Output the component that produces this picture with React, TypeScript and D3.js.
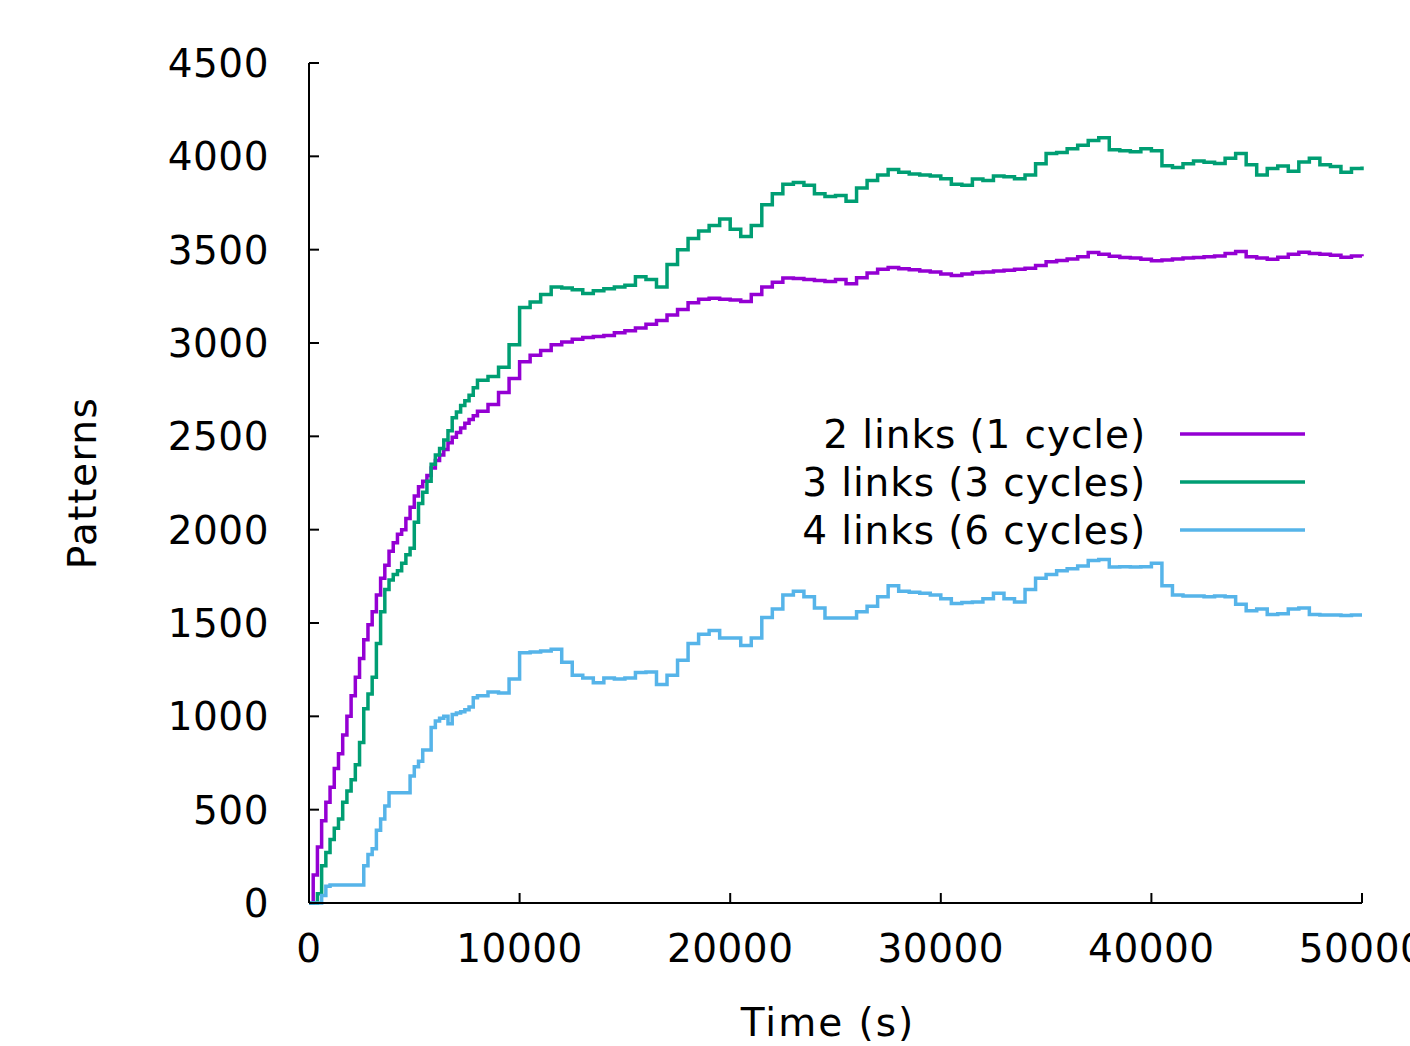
import React from "react";
import * as d3 from "d3";

// time grid (s): every 200 s up to 8000, then every 500 s
const times = [
  0, 200, 400, 600, 800, 1000, 1200, 1400, 1600, 1800, 2000, 2200, 2400, 2600, 2800, 3000, 3200, 3400, 3600, 3800,
  4000, 4200, 4400, 4600, 4800, 5000, 5200, 5400, 5600, 5800, 6000, 6200, 6400, 6600, 6800, 7000, 7200, 7400, 7600,
  7800, 8000,
  8500, 9000, 9500, 10000, 10500, 11000, 11500, 12000, 12500, 13000, 13500, 14000, 14500, 15000, 15500, 16000,
  16500, 17000, 17500, 18000, 18500, 19000, 19500, 20000, 20500, 21000, 21500, 22000, 22500, 23000, 23500, 24000,
  24500, 25000, 25500, 26000, 26500, 27000, 27500, 28000, 28500, 29000, 29500, 30000, 30500, 31000, 31500, 32000,
  32500, 33000, 33500, 34000, 34500, 35000, 35500, 36000, 36500, 37000, 37500, 38000, 38500, 39000, 39500, 40000,
  40500, 41000, 41500, 42000, 42500, 43000, 43500, 44000, 44500, 45000, 45500, 46000, 46500, 47000, 47500, 48000,
  48500, 49000, 49500, 50000,
];

const links2 = [
  0, 150, 300, 440, 540, 620, 720, 800, 900, 1000, 1110, 1210, 1310, 1410, 1490, 1560, 1650, 1740, 1810, 1885,
  1930, 1975, 2000, 2060, 2120, 2180, 2230, 2260, 2290, 2330, 2370, 2400, 2430, 2465, 2495, 2520, 2545, 2570, 2590,
  2610, 2635,
  2670, 2735, 2810, 2900, 2935, 2960, 2990, 3005, 3020, 3030, 3035, 3040, 3055, 3065, 3080, 3100,
  3120, 3150, 3180, 3215, 3235, 3240, 3235, 3230, 3222, 3260, 3300, 3325, 3348, 3345, 3340, 3335,
  3330, 3340, 3318, 3350, 3375, 3395, 3404, 3398, 3392, 3386, 3380, 3370, 3362, 3370, 3378, 3380,
  3386, 3390, 3395, 3400, 3415, 3435, 3442, 3450, 3462, 3485, 3475, 3465, 3458, 3455, 3448, 3440,
  3445, 3450, 3456, 3458, 3462, 3466, 3480, 3490, 3462, 3455, 3448, 3460, 3475, 3486, 3480, 3476,
  3470, 3460, 3466, 3465,
];

const links3 = [
  0, 0, 50, 200, 270, 340, 400, 450, 540, 600, 660, 740, 860, 1040, 1120, 1210, 1390, 1560, 1680, 1730,
  1760, 1780, 1820, 1865, 1900, 2040, 2140, 2200, 2260, 2350, 2400, 2435, 2480, 2530, 2600, 2630, 2665, 2690, 2720,
  2760, 2800,
  2820, 2870, 2990, 3190, 3220, 3260, 3300, 3295, 3285, 3265, 3280, 3290, 3300, 3310, 3355, 3340,
  3300, 3420, 3500, 3560, 3600, 3630, 3664, 3610, 3570, 3630, 3740, 3800, 3850, 3860, 3845, 3800,
  3785, 3790, 3760, 3830, 3870, 3900, 3930, 3915, 3905, 3900, 3895, 3880, 3850, 3845, 3878, 3870,
  3895, 3890, 3880, 3900, 3960, 4015, 4020, 4040, 4060, 4085, 4100, 4035, 4030, 4025, 4040, 4030,
  3950, 3940, 3960, 3975, 3968, 3962, 3990, 4015, 3955, 3900, 3935, 3948, 3920, 3970, 3990, 3955,
  3945, 3915, 3935, 3946,
];

const links4 = [
  0, 0, 0, 40, 90, 96, 96, 96, 96, 96, 96, 96, 96, 200, 260, 290, 390, 450, 520, 590,
  590, 590, 590, 590, 680, 730, 760, 820, 820, 940, 975, 990, 1000, 960, 1010, 1018, 1025, 1035, 1050,
  1100, 1110,
  1130, 1125, 1200, 1340, 1345, 1350, 1360, 1290, 1220, 1205, 1180, 1205, 1200, 1205, 1235, 1237,
  1170, 1220, 1300, 1390, 1440, 1460, 1420, 1420, 1380, 1420, 1530, 1575, 1650, 1670, 1640, 1580,
  1527, 1527, 1527, 1560, 1590, 1640, 1700, 1670, 1665, 1660, 1650, 1630, 1605, 1610, 1612, 1630,
  1660, 1630, 1612, 1680, 1740, 1760, 1780, 1790, 1805, 1835, 1840, 1800, 1802, 1800, 1802, 1820,
  1700, 1650, 1645, 1645, 1640, 1645, 1640, 1600, 1565, 1575, 1545, 1550, 1575, 1580, 1545, 1543,
  1543, 1540, 1543, 1543,
];

const seriesNames = ["2 links (1 cycle)", "3 links (3 cycles)", "4 links (6 cycles)"];
const seriesColors = ["#9400d3", "#009e73", "#56b4e9"];
const seriesValues = [links2, links3, links4];

const xTicks = [0, 10000, 20000, 30000, 40000, 50000];
const yTicks = [0, 500, 1000, 1500, 2000, 2500, 3000, 3500, 4000, 4500];

const W = 1410;
const H = 1046;
const font = "'DejaVu Sans', Verdana, sans-serif";

export default function App() {
  const x = d3.scaleLinear().domain([0, 50000]).range([309, 1362]);
  const y = d3.scaleLinear().domain([0, 4500]).range([903, 63]);

  const line = d3
    .line<[number, number]>()
    .x((d) => x(d[0]))
    .y((d) => y(d[1]))
    .curve(d3.curveStepAfter);

  return (
    <div style={{ position: "absolute", left: 0, top: 0 }}>
      <svg width={W} height={H} style={{ display: "block", background: "#fff" }} fontFamily={font}>
        {/* series */}
        {seriesValues.map((vals, i) => (
          <path
            key={i}
            d={line(d3.zip(times, vals) as [number, number][]) || ""}
            fill="none"
            stroke={seriesColors[i]}
            strokeWidth={3.5}
          />
        ))}

        {/* axes */}
        <line x1={x(0)} x2={x(0)} y1={y(4500)} y2={y(0)} stroke="#000" strokeWidth={2} />
        <line x1={x(0)} x2={x(50000)} y1={y(0)} y2={y(0)} stroke="#000" strokeWidth={2} />
        {yTicks.map((t) => (
          <g key={"y" + t}>
            <line x1={x(0)} x2={x(0) + 10} y1={y(t)} y2={y(t)} stroke="#000" strokeWidth={2} />
            <text x={269} y={y(t)} dy="0.36em" textAnchor="end" fontSize={39} letterSpacing={0.5} fill="#000">
              {t}
            </text>
          </g>
        ))}
        {xTicks.map((t) => (
          <g key={"x" + t}>
            <line x1={x(t)} x2={x(t)} y1={y(0)} y2={y(0) - 10} stroke="#000" strokeWidth={2} />
            <text x={x(t)} y={962} textAnchor="middle" fontSize={39} letterSpacing={0.5} fill="#000">
              {t}
            </text>
          </g>
        ))}

        {/* axis titles */}
        <text
          transform={`translate(96,483) rotate(-90)`}
          textAnchor="middle"
          fontSize={39}
          letterSpacing={1.5}
          fill="#000"
        >
          Patterns
        </text>
        <text x={828} y={1036} textAnchor="middle" fontSize={39} letterSpacing={2} fill="#000">
          Time (s)
        </text>

        {/* legend */}
        {seriesNames.map((name, i) => (
          <g key={name}>
            <text
              x={1146}
              y={434 + i * 48}
              dy="0.36em"
              textAnchor="end"
              fontSize={39}
              letterSpacing={0.9}
              fill="#000"
            >
              {name}
            </text>
            <line
              x1={1180}
              x2={1305}
              y1={434 + i * 48}
              y2={434 + i * 48}
              stroke={seriesColors[i]}
              strokeWidth={3.5}
            />
          </g>
        ))}
      </svg>
    </div>
  );
}
